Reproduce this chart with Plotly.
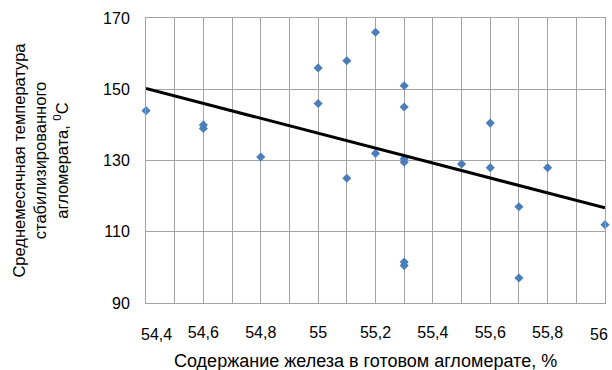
import numpy as np
import plotly.graph_objects as go

# Data
iron_pct = [54.4, 54.6, 54.6, 54.8, 55.0, 55.0, 55.1, 55.1, 55.2, 55.2,
            55.3, 55.3, 55.3, 55.3, 55.3, 55.3, 55.5, 55.6, 55.6, 55.7,
            55.7, 55.8, 56.0]
temp_c = [144, 140, 139, 131, 156, 146, 158, 125, 166, 132,
          151, 145, 130.5, 129.5, 101.5, 100.5, 129, 140.5, 128, 117,
          97, 128, 112]

x_tickvals = [54.4, 54.6, 54.8, 55.0, 55.2, 55.4, 55.6, 55.8, 56.0]
x_ticktext = ["54,4", "54,6", "54,8", "55", "55,2", "55,4", "55,6", "55,8", "56"]
y_tickvals = [90, 110, 130, 150, 170]

x_title = "Содержание железа в готовом агломерате, %"
y_title = "Среднемесячная температура<br>стабилизированного<br>агломерата, <sup>0</sup>C"

# Linear trend line (least squares) over the axis range
slope, intercept = np.polyfit(iron_pct, temp_c, 1)
trend_x = [x_tickvals[0], x_tickvals[-1]]
trend_y = [slope * v + intercept for v in trend_x]

FONT = "Liberation Sans, Arial, sans-serif"
GRID = "#a3a3a3"

fig = go.Figure()
fig.add_trace(go.Scatter(
    x=iron_pct, y=temp_c, mode="markers",
    marker=dict(symbol="diamond", size=7, color="#4a7ebb"),
    showlegend=False, cliponaxis=False,
))
fig.add_trace(go.Scatter(
    x=trend_x, y=trend_y, mode="lines",
    line=dict(color="black", width=3),
    showlegend=False, cliponaxis=False,
))

# Inner tick labels on the axis; the two end labels are nudged inward (as in the reference)
inner_vals = x_tickvals[1:-1]
inner_text = x_ticktext[1:-1]
end_labels = [(x_tickvals[0], x_ticktext[0], 10), (x_tickvals[-1], x_ticktext[-1], -6)]

fig.update_layout(
    width=612, height=370,
    margin=dict(l=146, r=7, t=18, b=67, autoexpand=False),
    paper_bgcolor="white", plot_bgcolor="white",
    font=dict(family=FONT, size=16, color="black"),
    xaxis=dict(
        range=[54.4, 56.0],
        tickvals=inner_vals, ticktext=inner_text,
        ticks="", ticklabelstandoff=15,
        showgrid=True, gridcolor=GRID, gridwidth=1,
        minor=dict(dtick=0.1, tick0=54.4, showgrid=True, gridcolor=GRID, gridwidth=1),
        showline=True, linecolor=GRID, linewidth=1, mirror=True,
        zeroline=False, automargin=False,
    ),
    yaxis=dict(
        range=[90, 170],
        tickvals=y_tickvals,
        ticks="", ticklabelstandoff=12,
        showgrid=True, gridcolor=GRID, gridwidth=1,
        showline=True, linecolor=GRID, linewidth=1, mirror=True,
        zeroline=False, automargin=False,
        title=dict(text=y_title, font=dict(size=16.5), standoff=30),
    ),
)

for xv, txt, shift in end_labels:
    fig.add_annotation(
        x=xv, xref="x", y=0, yref="paper", text=txt, showarrow=False,
        xanchor="center", yanchor="middle", xshift=shift, yshift=-31,
        font=dict(family=FONT, size=16, color="black"),
    )

fig.add_annotation(
    x=0.478, xref="paper", y=0, yref="paper", text=x_title, showarrow=False,
    xanchor="center", yanchor="middle", yshift=-58,
    font=dict(family=FONT, size=18, color="black"),
)

fig.write_html("out.html", config={"displayModeBar": False},
               post_script="document.body.style.margin='0';")
